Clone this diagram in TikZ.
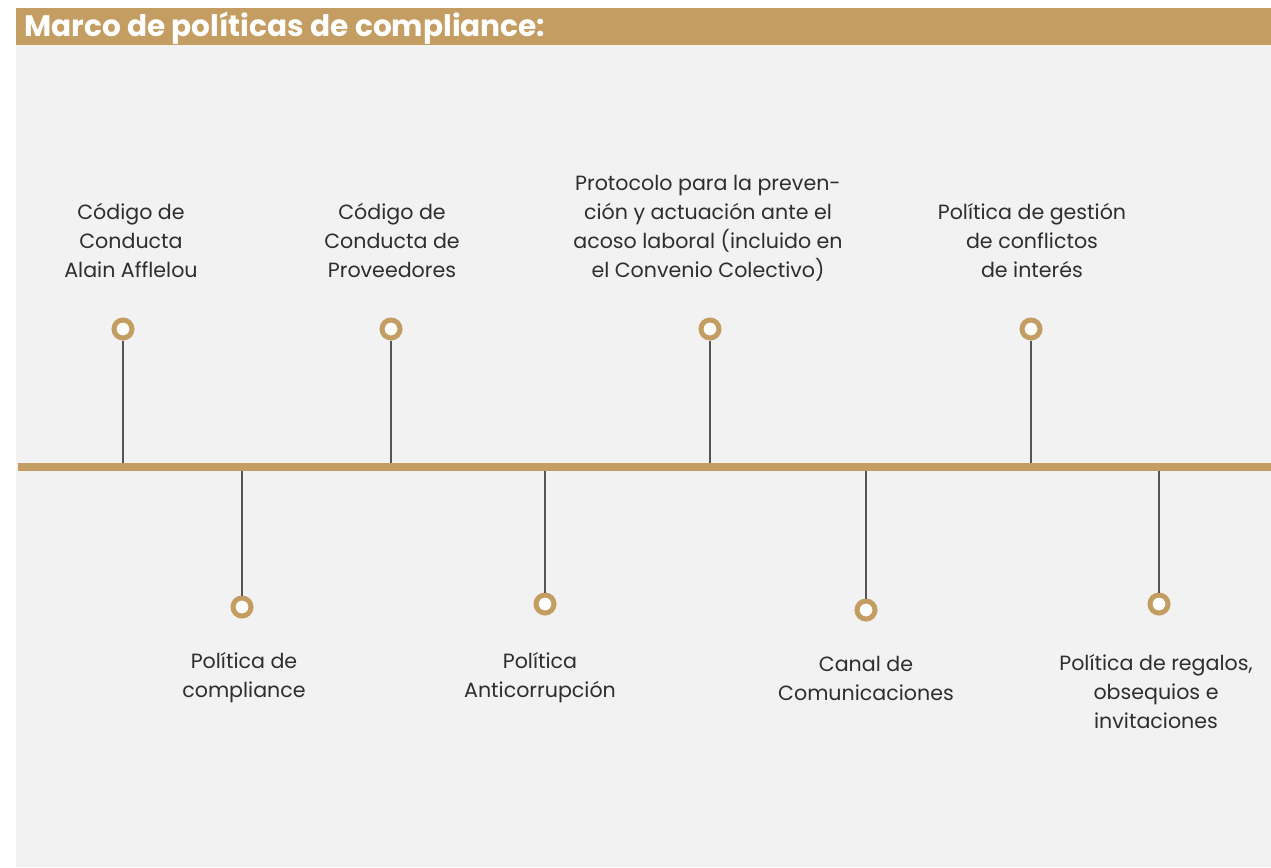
\documentclass[tikz,border=0pt]{standalone}
\usepackage{fontspec}
\setmainfont{Poppins}
\definecolor{gold}{HTML}{C49D62}
\definecolor{panel}{HTML}{F2F2F2}
\definecolor{txt}{HTML}{2E2E2E}
\definecolor{stem}{HTML}{555555}
\begin{document}
\begin{tikzpicture}[x=1pt,y=-1pt,
  dot/.style={circle,draw=gold,line width=5pt,fill=white,minimum size=18pt,inner sep=0pt},
  lab/.style={align=center,text=txt,font=\fontsize{20.6}{29}\selectfont},
  stemline/.style={draw=stem,line width=1.4pt}]
\useasboundingbox (0,0) rectangle (1271,867);
\fill[white] (0,0) rectangle (1271,867);
\fill[panel] (16,45) rectangle (1271,867);
\fill[gold] (16,8) rectangle (1271,45);
\node[anchor=base west,text=white,font=\fontsize{29.6}{31}\selectfont\bfseries,inner sep=0pt] (title) at (24,37) {Marco de políticas de compliance:};
% timeline
\coordinate (L) at (18,467);
\coordinate (R) at (1271,467);
\draw[gold,line width=8pt] (L) -- (R);
% top items
\foreach \n/\x in {a/123,c/391,e/710,g/1031}{
  \coordinate (\n s) at (\x,463);
  \node[dot] (\n) at (\x,329) {};
  \draw[stemline] (\n) -- (\n s);
}
\foreach \n/\x/\y in {b/242/607,d/545/604,f/866/610,h/1159/604}{
  \coordinate (\n s) at (\x,471);
  \node[dot] (\n) at (\x,\y) {};
  \draw[stemline] (\n s) -- (\n);
}
\node[lab] (ta) at (131,240) {Código de\\Conducta\\Alain Afflelou};
\node[lab] (tc) at (392,240) {Código de\\Conducta de\\Proveedores};
\node[lab] (te) at (708,228) {Protocolo para la preven-\\ción y actuación ante el\\acoso laboral (incluido en\\el Convenio Colectivo)};
\node[lab] (tg) at (1032,240) {Política de gestión\\de conflictos\\de interés};
\node[lab] (tb) at (244,678) {Política de\\compliance};
\node[lab] (td) at (540,678) {Política\\Anticorrupción};
\node[lab] (tf) at (866,678) {Canal de\\Comunicaciones};
\node[lab] (th) at (1156,692) {Política de regalos,\\obsequios e\\invitaciones};
\end{tikzpicture}
\end{document}
